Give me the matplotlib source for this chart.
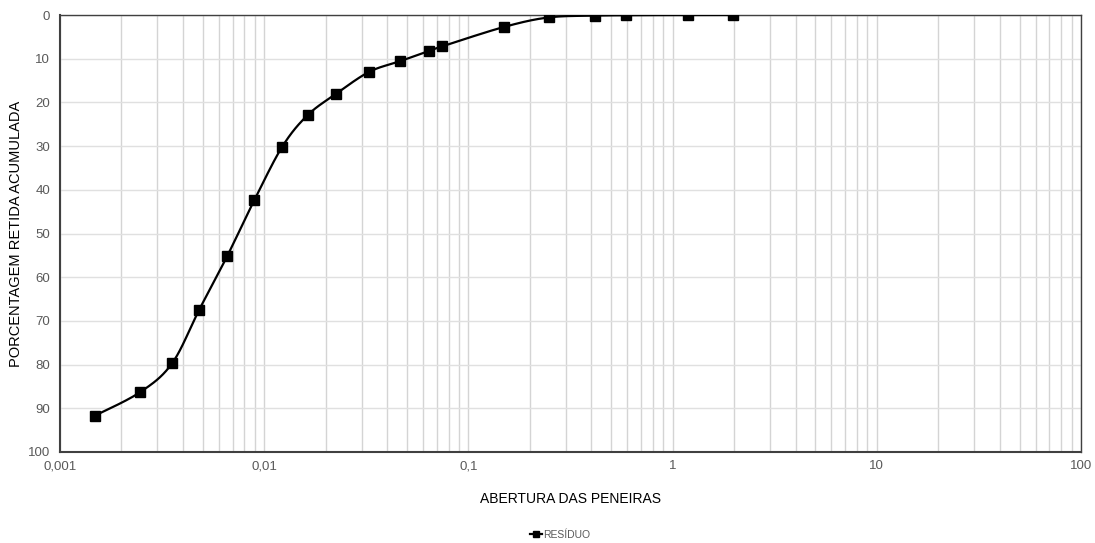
import numpy as np
import matplotlib
matplotlib.use("Agg")
import matplotlib.pyplot as plt
from matplotlib.ticker import FixedLocator, FixedFormatter, NullFormatter
from matplotlib.lines import Line2D

plt.rcParams['font.family'] = ['Liberation Sans', 'DejaVu Sans']

# Grain-size distribution: sieve/particle opening (mm) vs cumulative % retained
abertura = [0.00148, 0.00247, 0.00354, 0.00481, 0.00660, 0.00894, 0.01227,
            0.01633, 0.02255, 0.0327, 0.0461, 0.0644, 0.0742, 0.149,
            0.248, 0.418, 0.593, 1.19, 1.98]
retida = [91.7, 86.3, 79.7, 67.4, 55.1, 42.4, 30.1,
          22.9, 18.0, 13.0, 10.6, 8.2, 7.2, 2.75,
          0.55, 0.15, 0.05, 0.0, 0.0]

x_ticks = [0.001, 0.01, 0.1, 1, 10, 100]
x_tick_labels = ['0,001', '0,01', '0,1', '1', '10', '100']
y_ticks = list(range(0, 101, 10))
serie = 'RESÍDUO'


def smooth_curve(xs, ys, n=30):
    """Bezier smoothing (Catmull-Rom style) in log-x space."""
    lx = np.log10(np.asarray(xs, float))
    yy = np.asarray(ys, float)
    pts = np.column_stack([lx, yy])
    out = []
    m = len(pts)
    for i in range(m - 1):
        p0 = pts[i - 1] if i > 0 else pts[i]
        p1 = pts[i]
        p2 = pts[i + 1]
        p3 = pts[i + 2] if i + 2 < m else pts[i + 1]
        c1 = p1 + (p2 - p0) / 6.0
        c2 = p2 - (p3 - p1) / 6.0
        t = np.linspace(0, 1, n)[:, None]
        seg = ((1 - t) ** 3) * p1 + 3 * ((1 - t) ** 2) * t * c1 \
            + 3 * (1 - t) * t ** 2 * c2 + t ** 3 * p2
        out.append(seg if i == 0 else seg[1:])
    curve = np.vstack(out)
    return 10 ** curve[:, 0], curve[:, 1]


fig = plt.figure(figsize=(10.95, 5.43), dpi=100)
ax = fig.add_axes([60 / 1095, 1 - 452 / 543, (1081 - 60) / 1095, (452 - 15) / 543])

ax.set_xscale('log')
ax.set_xlim(0.001, 100)
ax.set_ylim(100, 0)

sx, sy = smooth_curve(abertura, retida)
ax.plot(sx, sy, color='black', lw=1.6, zorder=3)
ax.plot(abertura, retida, ls='none', marker='s', ms=7, color='black', zorder=4)

# Grid
ax.xaxis.set_major_locator(FixedLocator(x_ticks))
ax.xaxis.set_major_formatter(FixedFormatter(x_tick_labels))
minor = [m * 10.0 ** e for e in range(-3, 2) for m in range(2, 10)]
ax.xaxis.set_minor_locator(FixedLocator(minor))
ax.xaxis.set_minor_formatter(NullFormatter())
ax.set_yticks(y_ticks)
ax.grid(True, which='both', axis='x', color='#d4d4d4', lw=1.0, zorder=0)
ax.grid(True, which='major', axis='y', color='#e0e0e0', lw=1.0, zorder=0)

ax.tick_params(axis='both', which='both', length=0, labelsize=9.5,
               labelcolor='#595959')
ax.tick_params(axis='x', pad=6)
ax.tick_params(axis='y', pad=7)

for side in ['left', 'bottom']:
    ax.spines[side].set_color('#404040')
    ax.spines[side].set_linewidth(1.5)
for side in ['top', 'right']:
    ax.spines[side].set_color('#404040')
    ax.spines[side].set_linewidth(1.0)

ax.set_xlabel('ABERTURA DAS PENEIRAS', fontsize=10, color='black', labelpad=14)
ax.set_ylabel('PORCENTAGEM RETIDA ACUMULADA', fontsize=10.5, color='black')
ax.yaxis.set_label_coords(-0.036, 0.5)

handle = Line2D([], [], color='black', marker='s', ms=4.5, lw=1.6)
fig.legend([handle], [serie], loc='center', bbox_to_anchor=(560 / 1095, 1 - 535 / 543),
           frameon=False, fontsize=7.5, labelcolor='#595959', handlelength=1.2,
           handletextpad=0.1, borderaxespad=0)

fig.savefig('out.png', dpi=100, facecolor='white')
